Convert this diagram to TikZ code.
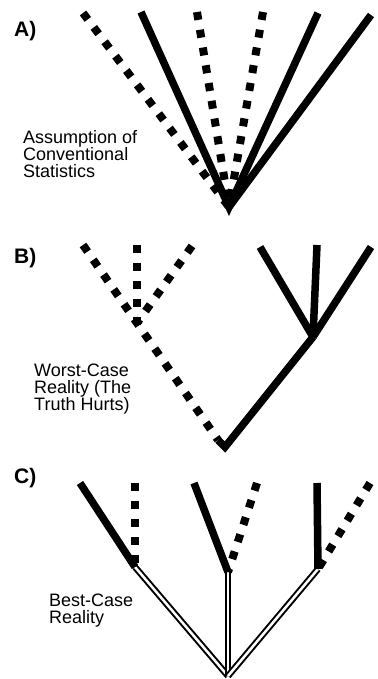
\documentclass[tikz,border=0pt]{standalone}
\usepackage{fontspec}
\setmainfont{Liberation Sans}
\usetikzlibrary{positioning}

\begin{document}
\begin{tikzpicture}[
    x=1pt, y=-1pt,
    solidline/.style={line width=7.5pt, line join=miter},
    dotline/.style={line width=8pt, dash pattern=on 8pt off 10pt},
    twinline/.style={double=white, line width=2pt, double distance=2.5pt},
    panel/.style={font=\bfseries\fontsize{21}{23}\selectfont, anchor=base west, inner sep=0pt},
    caption/.style={font=\fontsize{18}{17}\selectfont, align=left, anchor=north west, inner sep=0pt}
]
\useasboundingbox (0,0) rectangle (377,679);

% Panel A
\node[panel] (labA) at (14,37) {A)};
\node[caption] (capA) at (23,130) {Assumption of\\Conventional\\Statistics};
\coordinate (rootA) at (229,207);
\coordinate (a1) at (83,13);
\coordinate (a2) at (141,12);
\coordinate (a3) at (197,12);
\coordinate (a4) at (263,12);
\coordinate (a5) at (318,13);
\coordinate (a6) at (371,15);
\draw[dotline] (a1) -- (rootA);
\draw[dotline] (a3) -- (rootA);
\draw[dotline] (a4) -- (rootA);
\draw[solidline] (a2) -- (rootA) -- (a5);
\draw[solidline] (rootA) -- (a6);

% Panel B
\node[panel] (labB) at (14,263) {B)};
\node[caption] (capB) at (34,364) {Worst-Case\\Reality (The\\Truth Hurts)};
\coordinate (rootB) at (225,447);
\coordinate (bendB) at (218,440);
\coordinate (dotfork) at (137,323);
\coordinate (forkB) at (313,337);
\coordinate (b1) at (83,245);
\coordinate (b2) at (137,245);
\coordinate (b3) at (192,246);
\coordinate (b4) at (260,247);
\coordinate (b5) at (317,245);
\coordinate (b6) at (371,247);
\draw[dotline] (b1) -- (bendB);
\draw[dotline] (b2) -- (dotfork);
\draw[dotline] (b3) -- (dotfork);
\draw[solidline] (bendB) -- (rootB) -- (forkB);
\draw[solidline] (forkB) -- (b4);
\draw[solidline] (forkB) -- (b5);
\draw[solidline] (forkB) -- (b6);

% Panel C
\node[panel] (labC) at (14,483) {C)};
\node[caption] (capC) at (49,594) {Best-Case\\Reality};
\coordinate (rootC) at (228,676);
\coordinate (c1) at (135,567);
\coordinate (c2) at (228,572);
\coordinate (c3) at (318,569);
\coordinate (c1s) at (80,483);
\coordinate (c1d) at (135,483);
\coordinate (c2s) at (194,483);
\coordinate (c2d) at (257,483);
\coordinate (c3s) at (317,483);
\coordinate (c3d) at (370,483);
\draw[twinline] (rootC) -- (c1);
\draw[twinline] (rootC) -- (c2);
\draw[twinline] (rootC) -- (c3);
\draw[solidline] (c1) -- (c1s);
\draw[dotline] (c1d) -- (c1);
\draw[solidline] (c2) -- (c2s);
\draw[dotline] (c2d) -- (c2);
\draw[solidline] (c3) -- (c3s);
\draw[dotline] (c3d) -- (c3);

\end{tikzpicture}
\end{document}
